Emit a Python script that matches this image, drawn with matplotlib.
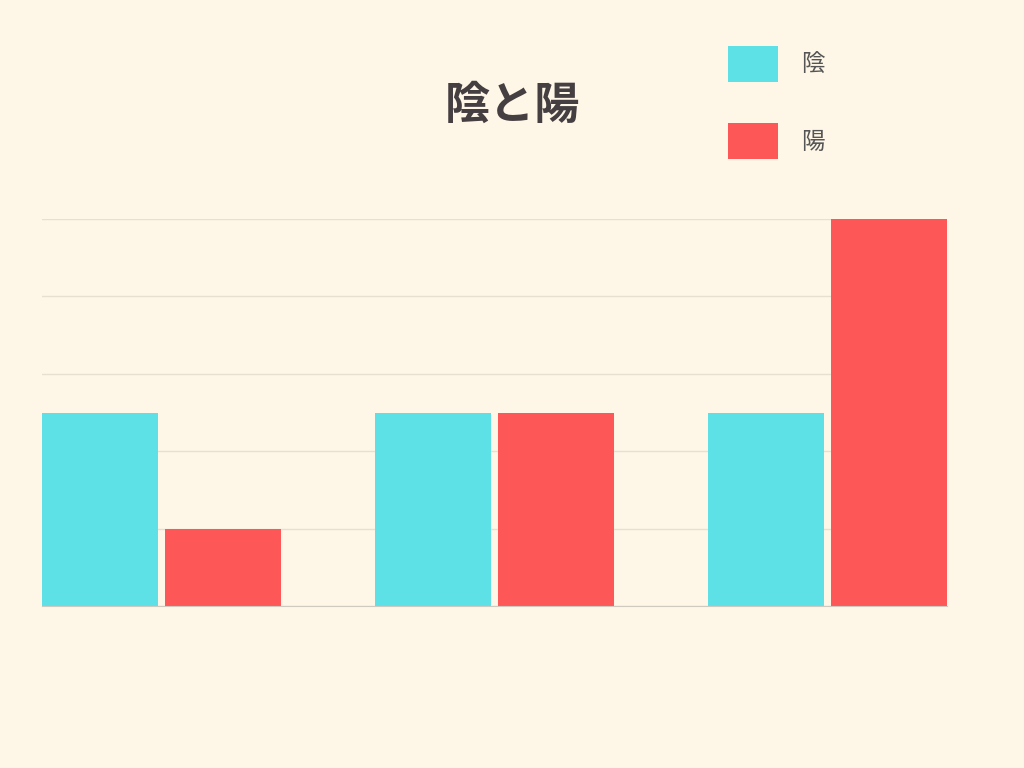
import matplotlib
matplotlib.use("Agg")
import matplotlib.pyplot as plt
import numpy as np

plt.rcParams['font.family'] = ['Noto Sans CJK JP', 'DejaVu Sans']

# data
categories = ['A', 'B', 'C']
series_names = ['陰', '陽']
yin_values = [2.5, 2.5, 2.5]
yang_values = [1, 2.5, 5]
colors = ['#5ee1e6', '#fe5757']
bg = '#fef7e8'

fig = plt.figure(figsize=(10.24, 7.68), dpi=100, facecolor=bg)
ax = fig.add_axes([42 / 1024, 1 - 606 / 768, 905 / 1024, 387 / 768], facecolor=bg)

x = np.arange(len(categories))
w = 116 / 333
off = 123 / 2 / 333
ax.bar(x - off, yin_values, w, color=colors[0], label=series_names[0], zorder=2)
ax.bar(x + off, yang_values, w, color=colors[1], label=series_names[1], zorder=2)

ax.set_xlim(-119.5 / 333, 2 + 119.5 / 333)
ax.set_ylim(0, 5)
ax.set_yticks(np.arange(0, 6, 1))
ax.yaxis.grid(True, color='#e6e0d2', linewidth=1, zorder=0)
ax.tick_params(left=False, bottom=False, labelleft=False, labelbottom=False)
for s in ['top', 'right', 'left']:
    ax.spines[s].set_visible(False)
ax.spines['bottom'].set_color('#cfcac0')
ax.spines['bottom'].set_zorder(3)

fig.text(512 / 1024, 1 - 106 / 768, '陰と陽', ha='center', va='center',
         fontsize=32.5, fontweight='bold', color='#463f42')

leg = ax.legend(loc='upper left', bbox_to_anchor=(728 / 1024, 1 - 46 / 768),
                bbox_transform=fig.transFigure, frameon=False, fontsize=17,
                handlelength=2.12, handleheight=1.97, labelspacing=1.74,
                handletextpad=0.98, borderpad=0, borderaxespad=0)
for t in leg.get_texts():
    t.set_color('#555555')

fig.savefig('out.png', dpi=100, facecolor=bg)
